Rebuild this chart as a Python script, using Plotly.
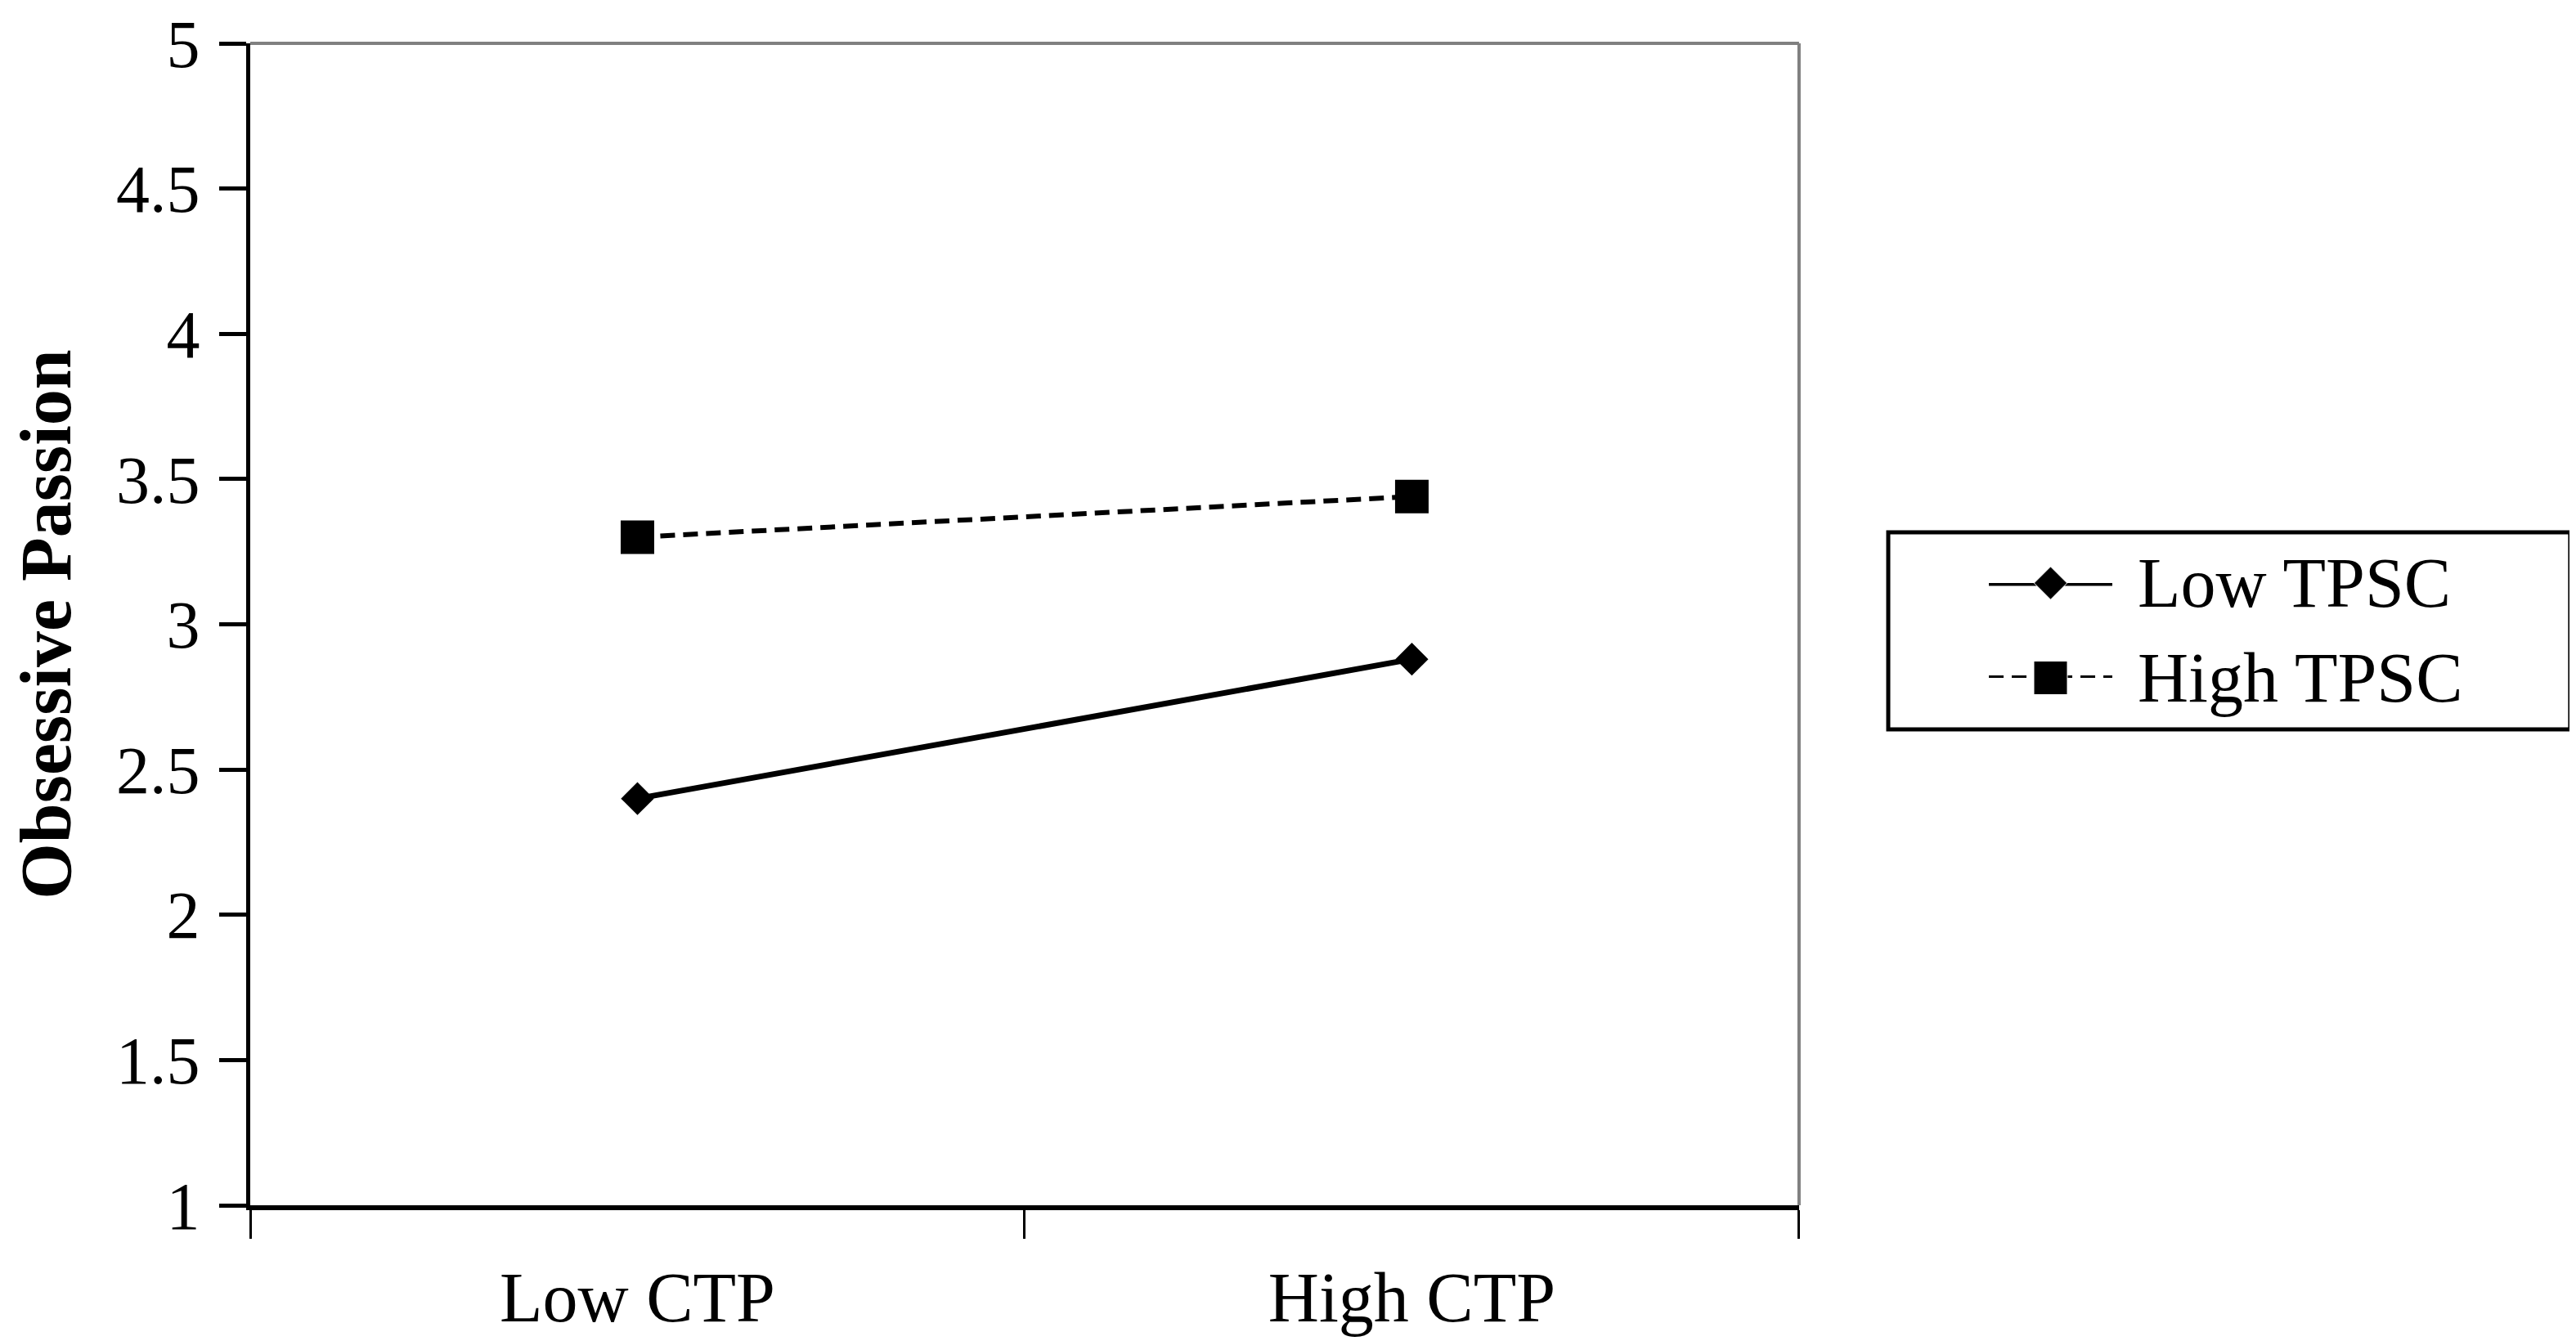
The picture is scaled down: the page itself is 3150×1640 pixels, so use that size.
"""Interaction plot: obsessive passion by CTP level, split by TPSC (low / high)."""

import plotly.graph_objects as go

# ---- data ------------------------------------------------------------------
categories = ["Low CTP", "High CTP"]
low_tpsc = [2.40, 2.88]
high_tpsc = [3.30, 3.44]
y_ticks = [1, 1.5, 2, 2.5, 3, 3.5, 4, 4.5, 5]
series_names = ["Low TPSC", "High TPSC"]

FONT = "Liberation Serif, Times New Roman, serif"

# series styles (shared by plot and the hand-made legend)
styles = [
    dict(line=dict(color="black", width=7),
         symbol="diamond", size=31),
    dict(line=dict(color="black", width=6, dash="18px,10px"),
         symbol="square", size=41),
]

fig = go.Figure()
for name, values, st in zip(series_names, [low_tpsc, high_tpsc], styles):
    fig.add_trace(go.Scatter(
        x=categories, y=values, mode="lines+markers", name=name,
        line=st["line"], showlegend=False,
        marker=dict(symbol=st["symbol"], size=st["size"], color="black"),
    ))

# Excel-style legend: long line sample with the marker in the middle.
# Drawn on a small helper axis pair so the sample is as big as in the original.
for row, (name, st) in enumerate(zip(series_names, styles)):
    fig.add_trace(go.Scatter(
        x=[0, 0.5, 1], y=[1 - row] * 3, mode="lines+markers",
        line=st["line"], cliponaxis=False, showlegend=False, hoverinfo="skip",
        marker=dict(symbol=st["symbol"], size=[0, st["size"], 0], color="black",
                    opacity=1),
        opacity=1, xaxis="x2", yaxis="y2",
    ))
    fig.add_annotation(
        text=name, xref="paper", yref="y2", x=0.8097, y=1 - row,
        xanchor="left", yanchor="middle", showarrow=False,
        font=dict(family=FONT, size=86, color="black"),
    )

# legend frame
fig.add_shape(type="rect", xref="paper", yref="paper",
              x0=0.7033, x1=0.9961, y0=0.4096, y1=0.5792,
              line=dict(color="black", width=5), fillcolor="rgba(0,0,0,0)",
              layer="above")

# gray top / right frame of the plot area
frame = dict(color="#808080", width=4)
fig.add_shape(type="line", xref="x domain", yref="y domain",
              x0=0, x1=1, y0=1, y1=1, line=frame, layer="below")
fig.add_shape(type="line", xref="x domain", yref="y domain",
              x0=1, x1=1, y0=0, y1=1, line=frame, layer="below")

fig.update_layout(
    width=3150, height=1640,
    margin=dict(l=298, r=4, t=45, b=174),
    plot_bgcolor="white", paper_bgcolor="white",
    showlegend=False,
    xaxis=dict(
        domain=[0, 0.6650], type="category", range=[-0.5, 1.5],
        tickson="boundaries", automargin=False,
        ticks="outside", ticklen=35, tickwidth=2.5, tickcolor="black",
        showline=True, linecolor="black", linewidth=6,
        showgrid=False, zeroline=False, ticklabelstandoff=33,
        tickfont=dict(family=FONT, size=86, color="black"),
    ),
    yaxis=dict(
        range=[1, 5], tickvals=y_ticks, automargin=False,
        ticklabeloverflow="allow",
        ticks="outside", ticklen=33, tickwidth=5, tickcolor="black",
        showline=True, linecolor="black", linewidth=5,
        showgrid=False, zeroline=False, ticklabelstandoff=7,
        tickfont=dict(family=FONT, size=82, color="black"),
        title=dict(text="<b>Obsessive Passion</b>", standoff=64,
                   font=dict(family=FONT, size=88, color="black")),
    ),
    xaxis2=dict(domain=[0.7465, 0.7995], range=[0, 1], anchor="y2",
                visible=False, fixedrange=True),
    yaxis2=dict(domain=[0.4539, 0.5355], range=[0, 1], anchor="x2",
                visible=False, fixedrange=True),
)

fig.write_html("out.html")
